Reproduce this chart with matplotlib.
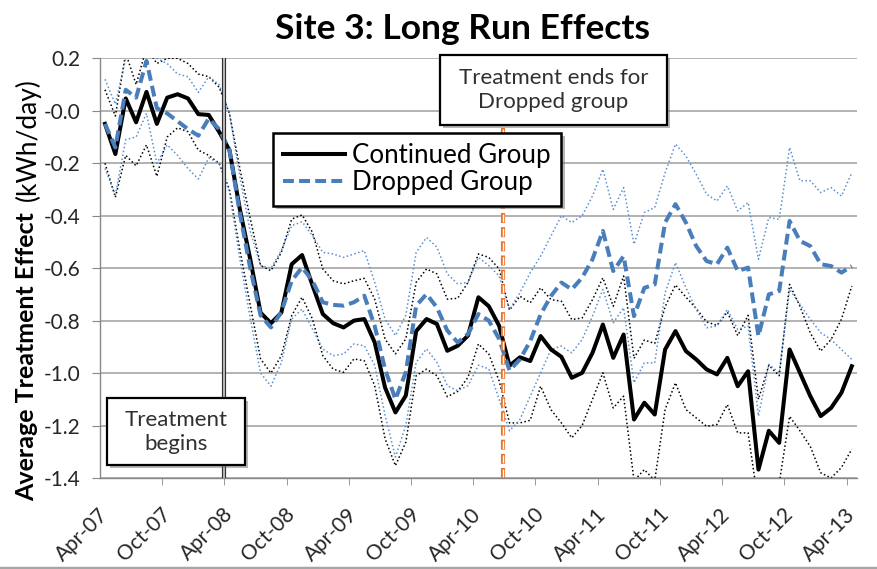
import matplotlib.pyplot as plt
import matplotlib.patheffects as pe
from matplotlib.patches import Rectangle
from matplotlib.lines import Line2D
import numpy as np

plt.rcParams['font.family'] = ['Lato', 'DejaVu Sans']
plt.rcParams['axes.unicode_minus'] = False

# monthly categories, Apr-07 .. Apr-13
tick_labels = ['Apr-07', 'Oct-07', 'Apr-08', 'Oct-08', 'Apr-09', 'Oct-09', 'Apr-10',
               'Oct-10', 'Apr-11', 'Oct-11', 'Apr-12', 'Oct-12', 'Apr-13']

continued = [-0.05, -0.165, 0.047, -0.044, 0.072, -0.05, 0.05, 0.063, 0.047, -0.013,
             -0.016, -0.08, -0.15, -0.375, -0.565, -0.77, -0.81, -0.77, -0.585, -0.55,
             -0.665, -0.775, -0.81, -0.826, -0.80, -0.794, -0.883, -1.055, -1.15, -1.086,
             -0.84, -0.794, -0.813, -0.915, -0.896, -0.857, -0.711, -0.745, -0.82, -0.972,
             -0.94, -0.954, -0.859, -0.91, -0.938, -1.018, -0.999, -0.923, -0.815, -0.942,
             -0.853, -1.177, -1.113, -1.158, -0.91, -0.84, -0.916, -0.948, -0.986, -1.005,
             -0.942, -1.05, -0.993, -1.368, -1.22, -1.266, -0.91, -0.999, -1.088, -1.164,
             -1.133, -1.075, -0.974]

dropped = [-0.05, -0.14, 0.08, 0.05, 0.19, 0.01, -0.01, -0.04, -0.07, -0.095,
           -0.03, -0.07, -0.15, -0.39, -0.6, -0.78, -0.826, -0.768, -0.648, -0.597,
           -0.648, -0.73, -0.74, -0.743, -0.73, -0.705, -0.82, -0.985, -1.10, -0.997,
           -0.743, -0.699, -0.75, -0.838, -0.883, -0.851, -0.775, -0.80, -0.87, -0.99,
           -0.948, -0.878, -0.776, -0.706, -0.655, -0.681, -0.636, -0.566, -0.458, -0.611,
           -0.554, -0.783, -0.675, -0.662, -0.426, -0.356, -0.426, -0.516, -0.573, -0.585,
           -0.522, -0.611, -0.598, -0.859, -0.70, -0.687, -0.42, -0.496, -0.516, -0.585,
           -0.592, -0.617, -0.592]

continued_hi = [0.08, -0.02, 0.22, 0.1, 0.24, 0.18, 0.2, 0.2, 0.18, 0.14,
                0.13, 0.09, -0.01, -0.22, -0.41, -0.59, -0.61, -0.54, -0.413, -0.397,
                -0.463, -0.603, -0.648, -0.66, -0.648, -0.639, -0.718, -0.87, -0.927, -0.87,
                -0.654, -0.603, -0.622, -0.718, -0.715, -0.654, -0.546, -0.559, -0.603, -0.76,
                -0.707, -0.732, -0.675, -0.72, -0.726, -0.796, -0.79, -0.72, -0.637, -0.745,
                -0.63, -0.944, -0.874, -0.887, -0.747, -0.664, -0.71, -0.754, -0.805, -0.818,
                -0.767, -0.857, -0.78, -1.1, -0.97, -1.01, -0.662, -0.745, -0.847, -0.916,
                -0.872, -0.795, -0.668]

continued_lo = [-0.2, -0.33, -0.17, -0.21, -0.13, -0.25, -0.1, -0.065, -0.08, -0.15,
                -0.17, -0.2, -0.3, -0.53, -0.74, -0.946, -1.0, -0.934, -0.781, -0.711,
                -0.794, -0.934, -0.985, -0.997, -0.946, -0.953, -1.048, -1.25, -1.353, -1.264,
                -1.01, -0.985, -1.01, -1.09, -1.07, -1.016, -0.889, -0.927, -1.03, -1.19,
                -1.19, -1.18, -1.05, -1.14, -1.19, -1.247, -1.2, -1.1, -0.999, -1.133,
                -1.088, -1.41, -1.368, -1.41, -1.139, -1.037, -1.139, -1.171, -1.203, -1.196,
                -1.12, -1.228, -1.228, -1.5, -1.45, -1.42, -1.165, -1.22, -1.28, -1.38,
                -1.40, -1.36, -1.29]

dropped_hi = [0.12, 0.025, 0.2, 0.22, 0.25, 0.2, 0.18, 0.14, 0.13, 0.07,
              0.13, 0.1, -0.01, -0.25, -0.46, -0.59, -0.6, -0.533, -0.438, -0.423,
              -0.476, -0.54, -0.546, -0.559, -0.546, -0.533, -0.654, -0.794, -0.857, -0.78,
              -0.54, -0.483, -0.52, -0.622, -0.66, -0.654, -0.559, -0.59, -0.63, -0.757,
              -0.694, -0.617, -0.554, -0.477, -0.40, -0.426, -0.40, -0.325, -0.223, -0.376,
              -0.293, -0.509, -0.388, -0.369, -0.236, -0.127, -0.172, -0.242, -0.318, -0.344,
              -0.287, -0.382, -0.35, -0.566, -0.407, -0.414, -0.14, -0.267, -0.267, -0.312,
              -0.293, -0.325, -0.236]

dropped_lo = [-0.22, -0.32, -0.11, -0.1, -0.01, -0.2, -0.13, -0.17, -0.22, -0.26,
              -0.18, -0.2, -0.31, -0.565, -0.79, -1.0, -1.05, -0.96, -0.794, -0.756,
              -0.832, -0.908, -0.934, -0.927, -0.889, -0.896, -0.97, -1.16, -1.32, -1.20,
              -0.959, -0.908, -0.959, -1.048, -1.067, -1.048, -0.97, -0.984, -1.1, -1.22,
              -1.177, -1.088, -0.999, -0.91, -0.897, -0.923, -0.872, -0.783, -0.681, -0.808,
              -0.751, -1.037, -0.961, -0.961, -0.694, -0.579, -0.674, -0.757, -0.827, -0.821,
              -0.757, -0.834, -0.821, -1.164, -0.967, -0.999, -0.681, -0.738, -0.795, -0.846,
              -0.872, -0.91, -0.948]

treatment_start = 11.5   # between Mar-08 and Apr-08
treatment_end = 38.4     # treatment ends for dropped group

W, H = 878, 569
fig = plt.figure(figsize=(W / 100, H / 100), dpi=100)
ax = fig.add_axes([99.8 / W, 1 - 478 / H, (857 - 99.8) / W, (478 - 58.3) / H])

x = np.arange(len(continued))
blue = '#4A7EBB'
dotted = (0, (1, 1.6))

ax.plot(x, continued_hi, color='black', lw=1.1, ls=dotted)
ax.plot(x, continued_lo, color='black', lw=1.1, ls=dotted)
ax.plot(x, dropped_hi, color='#5B8FD0', lw=1.1, ls=dotted)
ax.plot(x, dropped_lo, color='#5B8FD0', lw=1.1, ls=dotted)
l1, = ax.plot(x, continued, color='black', lw=2.9, solid_joinstyle='round', label='Continued Group')
l2, = ax.plot(x, dropped, color=blue, lw=2.9, ls=(0, (2.7, 1.3)), label='Dropped Group')

# treatment begins: double line
ax.axvline(treatment_start, color='#303030', lw=3.0, zorder=4)
ax.axvline(treatment_start, color='#D0D0D0', lw=1.2, zorder=4)
# treatment ends: hollow orange dashes
ax.axvline(treatment_end, color='#E8742E', lw=3.0, ls=(0, (2.4, 1.0)), zorder=4)
ax.axvline(treatment_end, color='white', lw=1.0, ls=(9.4, (5.6, 4.6)), zorder=4)

ax.set_xlim(-0.5, 72.5)
ax.set_ylim(-1.4, 0.2)
yt = np.arange(-1.4, 0.21, 0.2)
ax.set_yticks(yt)
ax.set_yticklabels(['%.1f' % v for v in yt])
ax.set_xticks(np.arange(0, 73, 6))
ax.set_xticklabels(tick_labels, rotation=45, ha='right', va='center', rotation_mode='anchor')
ax.set_xticks(np.arange(5.5, 72, 6), minor=True)
ax.tick_params(axis='x', which='major', length=0, pad=24, labelsize=15, labelcolor='#262626')
ax.tick_params(axis='x', which='minor', length=5, color='#888888', direction='out')
ax.tick_params(axis='y', length=6, color='#888888', labelsize=15, pad=8, labelcolor='#262626')
ax.grid(axis='y', color='#A6A6A6', lw=1.2)
ax.set_axisbelow(True)
for s in ['top', 'right']:
    ax.spines[s].set_visible(False)
for s in ['left', 'bottom']:
    ax.spines[s].set_color('#888888')
    ax.spines[s].set_linewidth(1.0)

shadow = [pe.SimplePatchShadow(offset=(2.5, -2.5), shadow_rgbFace='#707070', alpha=0.5), pe.Normal()]

leg = ax.legend(handles=[l1, l2], loc='upper left', bbox_to_anchor=(273 / W, 1 - 133 / H),
                bbox_transform=fig.transFigure, fontsize=18.6, frameon=True, fancybox=False,
                handlelength=2.4, handletextpad=0.27, borderpad=0.4, labelspacing=0.08,
                borderaxespad=0)
leg.get_frame().set_edgecolor('black')
leg.get_frame().set_linewidth(1.8)
leg.get_frame().set_alpha(1)
leg.get_frame().set_path_effects(shadow)
leg.set_zorder(6)


def note_box(x0, y0, x1, y1, text):
    r = Rectangle((x0 / W, 1 - y1 / H), (x1 - x0) / W, (y1 - y0) / H, transform=fig.transFigure,
                  facecolor='white', edgecolor='black', lw=1.6, zorder=5)
    r.set_path_effects(shadow)
    fig.patches.append(r)
    fig.text((x0 + x1) / 2 / W, 1 - (y0 + y1) / 2 / H, text, ha='center', va='center',
             fontsize=16, linespacing=1.25, zorder=6, color='#303030')


note_box(440, 55, 667, 125, 'Treatment ends for\nDropped group')
note_box(107, 398, 245, 465, 'Treatment\nbegins')

fig.text(463 / W, 1 - 29 / H, 'Site 3: Long Run Effects', ha='center', va='center',
         fontsize=25.5, fontweight='bold')
# y label: bold part and plain unit part
fig.text(27 / W, 1 - 357 / H, 'Average Treatment Effect', rotation=90,
         ha='center', va='center', fontsize=18, fontweight='bold')
fig.text(28 / W, 1 - 140 / H, '(kWh/day)', rotation=90,
         ha='center', va='center', fontsize=19)

fig.add_artist(Line2D([0, 1], [1.5 / H, 1.5 / H], transform=fig.transFigure, color='#A6A6A6', lw=2.5))

fig.savefig('out.png', dpi=100)
